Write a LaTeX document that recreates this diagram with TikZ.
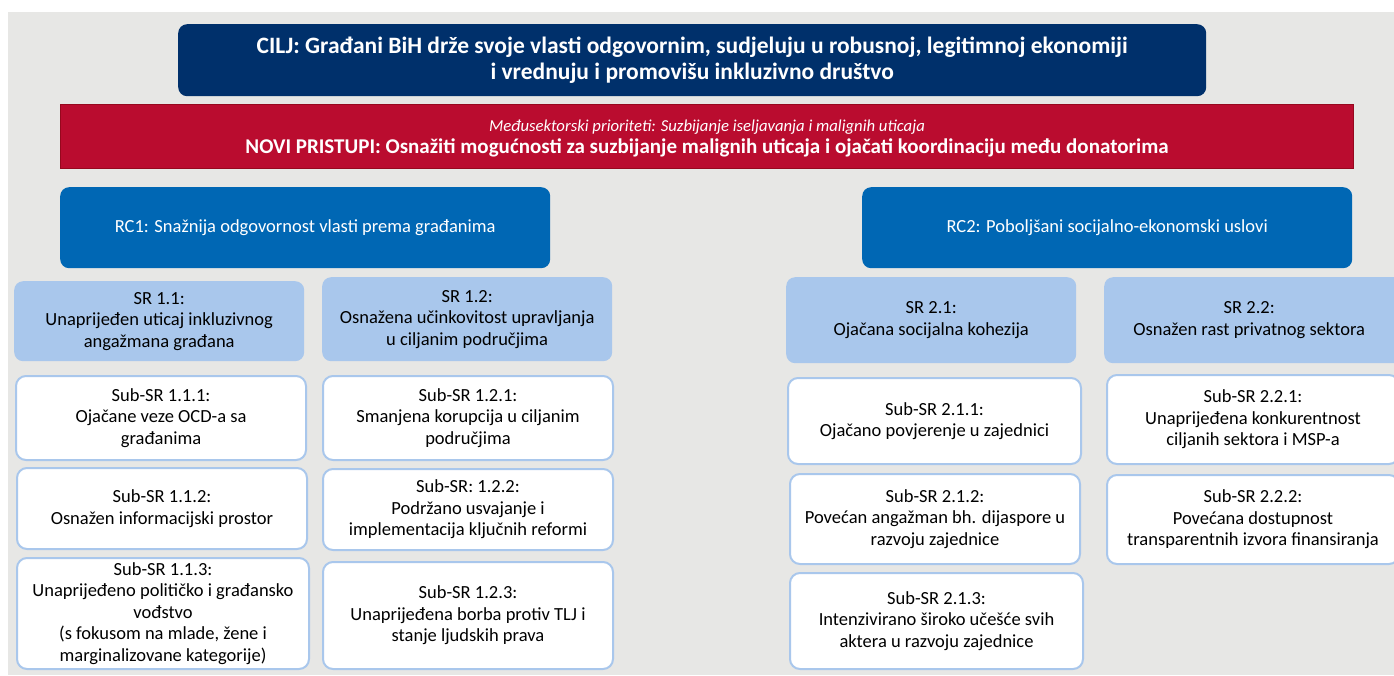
\documentclass[tikz,border=0pt]{standalone}
\usepackage{fontspec}
\setmainfont{Carlito}
\usetikzlibrary{positioning}
\definecolor{bggray}{RGB}{231,231,229}
\definecolor{ciljblue}{RGB}{0,48,107}
\definecolor{prioRed}{RGB}{186,12,47}
\definecolor{prioEdge}{RGB}{150,8,30}
\definecolor{rcblue}{RGB}{0,103,180}
\definecolor{srblue}{RGB}{169,199,236}

\tikzset{
  box/.style={rectangle, minimum width=#1, anchor=north west, inner sep=0pt},
  ciljbox/.style={box=1028pt, fill=ciljblue, rounded corners=9pt, minimum height=72pt},
  priobox/.style={box=1293pt, fill=prioRed, draw=prioEdge, line width=1pt, minimum height=64pt},
  rcbox/.style={box=490pt, fill=rcblue, rounded corners=9pt, minimum height=81pt},
  srbox/.style={box=290pt, fill=srblue, rounded corners=9pt},
  subbox/.style={box=290pt, fill=white, draw=srblue, line width=2pt, rounded corners=10pt},
  boxtext/.style={align=center, font=\fontsize{18.5}{21.5}\selectfont},
  whitetext/.style={boxtext, text=white}
}

\begin{document}
\begin{tikzpicture}[x=1pt, y=-1pt]
\useasboundingbox (0,0) rectangle (1394,675);
\fill[bggray] (8,12) rectangle (1394,675);

% cilj i prioriteti
\node (cilj) [ciljbox] at (178,24) {};
\node [text=white, align=center, font=\fontsize{23.5}{26}\selectfont\bfseries] at (cilj.center) {CILJ: Građani BiH drže svoje vlasti odgovornim, sudjeluju u robusnoj, legitimnoj ekonomiji\\ i vrednuju i promovišu inkluzivno društvo};

\node (prio) [priobox] at (60,104) {};
\node [text=white, align=center, font=\fontsize{21}{22}\selectfont] at ([yshift=-2pt]prio.center) {{\fontsize{16.7}{22}\selectfont\itshape Međusektorski prioriteti: Suzbijanje iseljavanja i malignih uticaja}\\ \textbf{NOVI PRISTUPI: Osnažiti mogućnosti za suzbijanje malignih uticaja i ojačati koordinaciju među donatorima}};

% razvojni ciljevi
\node (rc1) [rcbox] at (60,187) {};
\node [whitetext] at (rc1.center) {RC1: Snažnija odgovornost vlasti prema građanima};
\node (rc2) [rcbox] at (862,187) {};
\node [whitetext] at (rc2.center) {RC2: Poboljšani socijalno-ekonomski uslovi};

% SR 1.x
\node (sr11) [srbox, minimum height=80pt] at (14,281) {};
\node [boxtext] at (sr11.center) {SR 1.1:\\ Unaprijeđen uticaj inkluzivnog\\ angažmana građana};
\node (sr12) [srbox, minimum height=84pt] at (322,277) {};
\node [boxtext] at (sr12.center) {SR 1.2:\\ Osnažena učinkovitost upravljanja\\ u ciljanim područjima};

\node (sub111) [subbox, minimum height=84pt] at (15,375) {};
\node [boxtext] at (sub111.center) {Sub-SR 1.1.1:\\ Ojačane veze OCD-a sa\\ građanima};
\node (sub112) [subbox, minimum height=81pt] at (16,467) {};
\node [boxtext] at (sub112.center) {Sub-SR 1.1.2:\\ Osnažen informacijski prostor};
\node (sub113) [subbox, minimum height=111pt, minimum width=292pt] at (16,557) {};
\node [boxtext] at (sub113.center) {Sub-SR 1.1.3:\\ Unaprijeđeno političko i građansko\\ vođstvo\\ (s fokusom na mlade, žene i\\ marginalizovane kategorije)};

\node (sub121) [subbox, minimum height=84pt] at (322,375) {};
\node [boxtext] at (sub121.center) {Sub-SR 1.2.1:\\ Smanjena korupcija u ciljanim\\ područjima};
\node (sub122) [subbox, minimum height=81pt] at (322,468) {};
\node [boxtext] at (sub122.center) {Sub-SR: 1.2.2:\\ Podržano usvajanje i\\ implementacija ključnih reformi};
\node (sub123) [subbox, minimum height=107pt] at (322,561) {};
\node [boxtext] at (sub123.center) {Sub-SR 1.2.3:\\ Unaprijeđena borba protiv TLJ i\\ stanje ljudskih prava};

% SR 2.x
\node (sr21) [srbox, minimum height=86pt] at (786,277) {};
\node [boxtext] at (sr21.center) {SR 2.1:\\ Ojačana socijalna kohezija};
\node (sr22) [srbox, minimum height=86pt, minimum width=300pt] at (1104,277) {};
\node [boxtext] at ([xshift=-5pt]sr22.center) {SR 2.2:\\ Osnažen rast privatnog sektora};

\node (sub211) [subbox, minimum height=86pt, minimum width=293pt] at (787,377) {};
\node [boxtext] at (sub211.center) {Sub-SR 2.1.1:\\ Ojačano povjerenje u zajednici};
\node (sub212) [subbox, minimum height=90pt, minimum width=290pt] at (789,473) {};
\node [boxtext] at (sub212.center) {Sub-SR 2.1.2:\\ Povećan angažman bh. dijaspore u\\ razvoju zajednice};
\node (sub213) [subbox, minimum height=96pt, minimum width=293pt] at (789,572) {};
\node [boxtext] at (sub213.center) {Sub-SR 2.1.3:\\ Intenzivirano široko učešće svih\\ aktera u razvoju zajednice};

\node (sub221) [subbox, minimum height=89pt, minimum width=292pt] at (1106,374) {};
\node [boxtext] at (sub221.center) {Sub-SR 2.2.1:\\ Unaprijeđena konkurentnost\\ ciljanih sektora i MSP-a};
\node (sub222) [subbox, minimum height=89pt, minimum width=292pt] at (1106,474) {};
\node [boxtext] at (sub222.center) {Sub-SR 2.2.2:\\ Povećana dostupnost\\ transparentnih izvora finansiranja};
\end{tikzpicture}
\end{document}
